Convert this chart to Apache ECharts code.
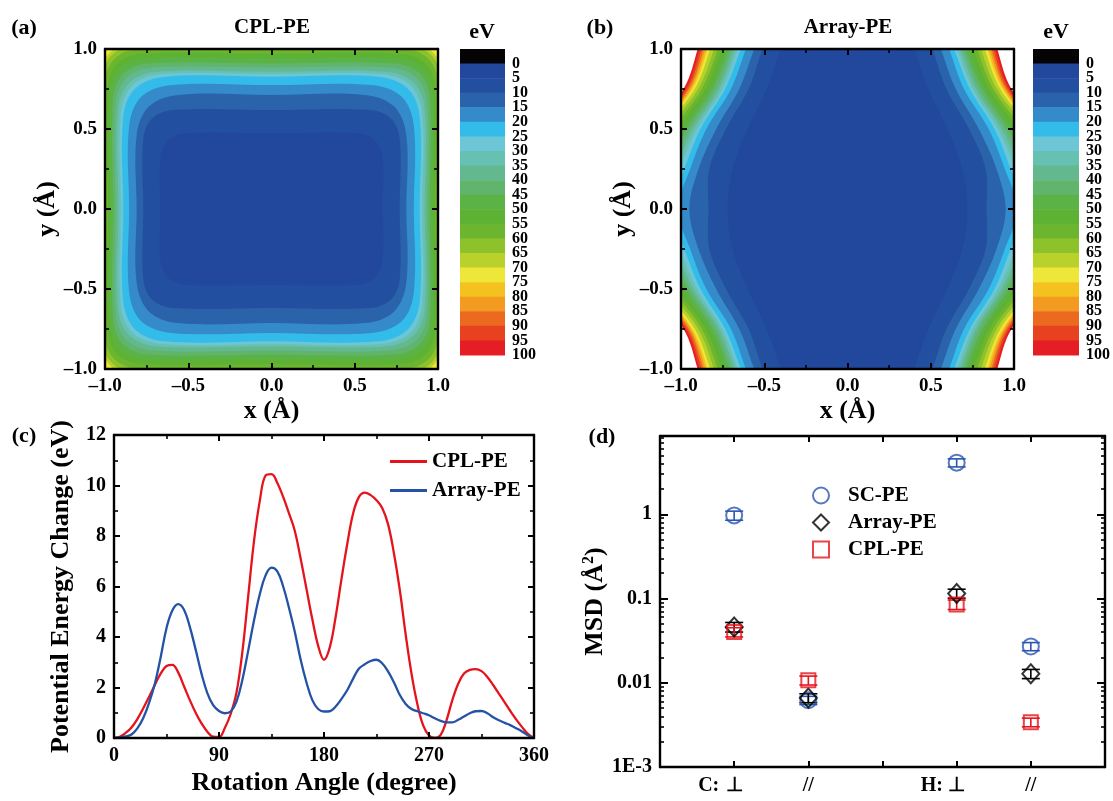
<!DOCTYPE html>
<html>
<head>
<meta charset="utf-8">
<script src="https://cdn.jsdelivr.net/npm/echarts@6/dist/echarts.min.js"></script>
<style>
html,body{margin:0;padding:0;background:#fff;}
#chart{width:1113px;height:801px;}
</style>
</head>
<body>
<div id="chart"></div>
<script>
// ================= DATA =================
// Colour scale: 5 eV bands from 0 to 100 eV (band k covers [5k, 5k+5]); colour-bar lower bounds (-5 = black cap)
const bandColors = ['#21489D','#234FA0','#2A63AA','#358BCA','#33BCEA','#6CC6D6','#67C1B2','#63B88F','#60B46B','#5CB345',
                    '#5EB233','#6CB62F','#8DC22A','#B9D22B','#EEE73A','#F5C11F','#F39A20','#EC6A20','#E8411F','#E51D25'];
const capColor = '#050304';
const colorbarLows = [-5,0,5,10,15,20,25,30,35,40,45,50,55,60,65,70,75,80,85,90,95];
const colorbarTickLabels = ['0','5','10','15','20','25','30','35','40','45','50','55','60','65','70','75','80','85','90','95','100'];

// Panel (a) CPL-PE map: iso-energy contours (rounded rectangles), in Å.
// For each level: half width at y=0, half height at x=0, corner point, and where the straight sides end.
const cplLevels      = [5,    10,   15,   20,   25,   30,   35,   40,   45,   50,   55,   60,   65,   70,   75];
const cplHalfWidth   = [0.667,0.77, 0.81, 0.855,0.89, 0.905,0.92, 0.935,0.95, 0.967,0.983,1.0,  1.02, 1.04, 1.3];
const cplHalfHeight  = [0.473,0.619,0.713,0.775,0.827,0.843,0.858,0.884,0.91, 0.94, 0.97, 1.0,  1.03, 1.06, 1.3];
const cplCornerX     = [0.62, 0.717,0.737,0.782,0.817,0.835,0.853,0.871,0.888,0.908,0.924,0.941,0.956,0.964,1.3];
const cplCornerY     = [0.43, 0.566,0.64, 0.702,0.754,0.773,0.791,0.82, 0.848,0.881,0.911,0.941,0.966,0.984,1.3];
const cplSideEndY    = [0.32, 0.44, 0.46, 0.52, 0.58, 0.60, 0.63, 0.66, 0.70, 0.74, 0.77, 0.80, 0.81, 0.80, 0.8];
const cplTopEndX     = [0.52, 0.59, 0.56, 0.60, 0.64, 0.66, 0.69, 0.71, 0.74, 0.77, 0.78, 0.80, 0.80, 0.78, 0.8];

// Panel (b) Array-PE map: iso-energy contour |x| positions (Å) at the heights below (left/right symmetric).
const arrayLevels = [5,10,15,20,25,30,35,40,45,50,55,60,65,70,75,80,85,90,95,100];
const arrayContourY = [1.15, 1, 0.75, 0.5, 0.25, 0, -0.25, -0.5, -0.75, -1, -1.15];
const arrayContourX = [
  [0.34,0.40,0.485,0.60, 0.69, 0.72,0.69, 0.60, 0.485,0.40,0.34],
  [0.45,0.51,0.594,0.73, 0.83, 0.835,0.83,0.73, 0.594,0.51,0.45],
  [0.50,0.56,0.650,0.789,0.895,0.95,0.895,0.789,0.650,0.56,0.50],
  [0.55,0.61,0.700,0.848,0.945,1.02,0.945,0.848,0.700,0.61,0.55],
  [0.58,0.64,0.735,0.883,0.98, 1.07,0.98, 0.883,0.735,0.64,0.58],
  [0.60,0.658,0.752,0.904,1.01,1.10,1.01, 0.904,0.752,0.658,0.60],
  [0.62,0.675,0.770,0.925,1.035,1.13,1.035,0.925,0.770,0.675,0.62],
  [0.64,0.693,0.788,0.945,1.06,1.16,1.06, 0.945,0.788,0.693,0.64],
  [0.66,0.71,0.810,0.966,1.085,1.19,1.085,0.966,0.810,0.71,0.66],
  [0.69,0.733,0.830,0.993,1.11,1.22,1.11, 0.993,0.830,0.733,0.69],
  [0.71,0.756,0.853,1.02, 1.14,1.25,1.14, 1.02, 0.853,0.756,0.71],
  [0.74,0.779,0.875,1.047,1.17,1.28,1.17, 1.047,0.875,0.779,0.74],
  [0.77,0.802,0.897,1.074,1.20,1.31,1.20, 1.074,0.897,0.802,0.77],
  [0.79,0.825,0.918,1.10, 1.23,1.34,1.23, 1.10, 0.918,0.825,0.79],
  [0.81,0.84,0.932,1.12, 1.25,1.36,1.25, 1.12, 0.932,0.84,0.81],
  [0.82,0.852,0.942,1.133,1.265,1.38,1.265,1.133,0.942,0.852,0.82],
  [0.835,0.864,0.952,1.148,1.28,1.40,1.28,1.148,0.952,0.864,0.835],
  [0.85,0.876,0.962,1.162,1.295,1.42,1.295,1.162,0.962,0.876,0.85],
  [0.86,0.888,0.972,1.176,1.31,1.44,1.31, 1.176,0.972,0.888,0.86],
  [0.87,0.90,0.985,1.19, 1.325,1.46,1.325,1.19, 0.985,0.90,0.87]
];

// Panel (c): rotation energy curves
const rotationAngles = [0,5,10,15,20,25,30,35,40,45,50,55,60,65,70,75,80,85,90,95,100,105,110,115,120,125,130,135,140,145,150,155,160,165,170,175,180,
  185,190,195,200,205,210,215,220,225,230,235,240,245,250,255,260,265,270,275,280,285,290,295,300,305,310,315,320,325,330,335,340,345,350,355,360];
const cplEnergy = [0,0.05,0.2,0.42,0.75,1.17,1.62,2.1,2.55,2.85,2.9,2.6,2.05,1.5,1.0,0.58,0.25,0.05,0.04,0.4,0.95,1.8,3.4,5.6,7.8,9.4,10.4,10.45,10.1,9.55,8.9,8.2,7.1,5.9,4.7,3.65,3.1,
  3.6,4.8,6.3,7.7,8.9,9.55,9.72,9.62,9.42,9.1,8.45,7.3,5.85,4.1,2.55,1.35,0.5,0.1,0.0,0.12,0.7,1.5,2.15,2.55,2.7,2.73,2.65,2.42,2.1,1.75,1.4,1.05,0.72,0.42,0.15,0];
const arrayEnergy = [0,0.02,0.06,0.14,0.38,0.78,1.38,2.15,3.2,4.35,5.05,5.3,5.08,4.4,3.5,2.55,1.78,1.3,1.07,0.98,1.05,1.44,2.3,3.45,4.65,5.7,6.45,6.75,6.6,6.0,5.15,4.2,3.1,2.2,1.5,1.15,1.05,
  1.06,1.25,1.55,1.9,2.35,2.75,2.92,3.05,3.1,2.95,2.63,2.2,1.7,1.35,1.15,1.06,0.98,0.9,0.78,0.68,0.62,0.62,0.72,0.85,0.98,1.06,1.07,0.98,0.82,0.7,0.6,0.5,0.38,0.25,0.1,0];

// Panel (d): MSD values (log scale)
const msdPositions = [1,2,4,5];
const msdGroups = ['C:','','H:',''];
const msdDirections = ['\u22A5','//','\u22A5','//'];
const scMSD = [0.97,0.0062,4.1,0.027];
const scErr = [0.12,0.0007,0.45,0.003];
const arrayMSD = [0.046,0.0066,0.115,0.0128];
const arrayErr = [0.006,0.0008,0.014,0.0016];
const cplMSD = [0.040,0.0107,0.085,0.0034];
const cplErr = [0.005,0.0013,0.011,0.0004];
const logTickLabels = {'-3':'1E-3','-2':'0.01','-1':'0.1','0':'1'};

// ================= BUILD =================
const FONT = "'Liberation Serif','Times New Roman',serif";
const RED = '#E5141C', BLUE = '#2352A6', SCBLUE = '#2A56B0';

// draw order: highest level first, then each lower level on top
const cplOrder = cplLevels.map((l,i)=>[i]).reverse();
const arrayOrder = arrayLevels.map((l,i)=>[i]).reverse();

function cplContourRender(params, api){
  const i = api.value(0);
  const ax = cplHalfWidth[i], ay = cplHalfHeight[i], cx = cplCornerX[i], cy = cplCornerY[i], e1 = cplSideEndY[i], e2 = cplTopEndX[i];
  const q = [[ax,0],[ax,e1],[cx,cy],[e2,ay],[0,ay],[-e2,ay],[-cx,cy],[-ax,e1],[-ax,0],[-ax,-e1],[-cx,-cy],[-e2,-ay],[0,-ay],[e2,-ay],[cx,-cy],[ax,-e1]];
  const pts = q.map(p => api.coord(p));
  return {type:'polygon', shape:{points:pts, smooth:0.35}, style:{fill:bandColors[cplLevels[i]/5 - 1], stroke:null}};
}
function arrayContourRender(params, api){
  const i = api.value(0);
  const xs = arrayContourX[i];
  const left = arrayContourY.map((y,k) => api.coord([-xs[k], y]));
  const right = arrayContourY.map((y,k) => api.coord([xs[k], y])).reverse();
  return {type:'polygon', shape:{points:left.concat(right), smooth:0.35}, style:{fill:bandColors[arrayLevels[i]/5 - 1], stroke:null}};
}
// colour bar: one rectangle per 5 eV segment, with the segment's boundary value written beside it
function barRender(params, api){
  const lo = api.value(0);
  const p0 = api.coord([0, lo]); const p1 = api.coord([1, lo + 5]);
  const idx = Math.round(lo / 5);
  const children = [{type:'rect', shape:{x:p0[0], y:p0[1], width:p1[0]-p0[0], height:p1[1]-p0[1]+0.5},
          style:{fill: lo < 0 ? capColor : bandColors[idx]}}];
  const labelStyle = {fill:'#000', font:'bold 16px ' + FONT, align:'left', verticalAlign:'middle'};
  if (lo >= -5 && idx + 1 < colorbarTickLabels.length + 1) {
    const li = idx + 1; // label at the lower edge (value lo+5)
    if (li >= 0 && li < colorbarTickLabels.length) {
      children.push({type:'text', x:p1[0] + 7, y:p1[1], style:Object.assign({text:colorbarTickLabels[li]}, labelStyle)});
    }
  }
  return {type:'group', children:children};
}
function errRender(color){
  return function(params, api){
    const x = api.value(0), lo = api.value(1), hi = api.value(2);
    const a = api.coord([x, lo]), b = api.coord([x, hi]); const w = 9;
    const st = {stroke:color, lineWidth:1.6};
    return {type:'group', children:[
      {type:'line', shape:{x1:a[0], y1:a[1], x2:b[0], y2:b[1]}, style:st},
      {type:'line', shape:{x1:a[0]-w, y1:a[1], x2:a[0]+w, y2:a[1]}, style:st},
      {type:'line', shape:{x1:b[0]-w, y1:b[1], x2:b[0]+w, y2:b[1]}, style:st}
    ]};
  };
}

function merge(base, extra){
  const out = Object.assign({}, base);
  for (const k in extra) {
    const v = extra[k];
    if (v && typeof v === 'object' && !Array.isArray(v) && base[k] && typeof base[k] === 'object') out[k] = Object.assign({}, base[k], v);
    else out[k] = v;
  }
  return out;
}
const baseAxis = {
  type:'value', z:10,
  axisLine:{show:true, onZero:false, lineStyle:{color:'#000', width:2.4}},
  axisTick:{show:true, inside:true, length:6, lineStyle:{color:'#000', width:2}},
  minorTick:{show:true, splitNumber:2, length:4, lineStyle:{color:'#000', width:1.6}},
  splitLine:{show:false},
  axisLabel:{show:true, color:'#000', fontFamily:FONT, fontWeight:'bold', fontSize:19, margin:8},
  nameTextStyle:{color:'#000', fontFamily:FONT, fontWeight:'bold', fontSize:26}
};
const ax = o => merge(baseAxis, o);
const noLabel = {show:false};
const mapFmt = v => (v < 0 ? '\u2013' : '') + Math.abs(v).toFixed(1);

const cbAxisY = gi => ({type:'value', gridIndex:gi, min:-5, max:100, interval:5, inverse:true, show:false});
const cbAxisX = gi => ({type:'value', gridIndex:gi, min:0, max:1, show:false});

const xAxes = [
  ax({gridIndex:0, min:-1, max:1, interval:0.5, position:'bottom', axisLabel:{formatter:mapFmt}, name:'x (\u00C5)', nameLocation:'middle', nameGap:29}),
  ax({gridIndex:0, min:-1, max:1, interval:0.5, position:'top', axisLabel:noLabel}),
  cbAxisX(1),
  ax({gridIndex:2, min:-1, max:1, interval:0.5, position:'bottom', axisLabel:{formatter:mapFmt}, name:'x (\u00C5)', nameLocation:'middle', nameGap:29}),
  ax({gridIndex:2, min:-1, max:1, interval:0.5, position:'top', axisLabel:noLabel}),
  cbAxisX(3),
  ax({gridIndex:4, min:0, max:360, interval:90, position:'bottom', axisLabel:{fontSize:20}, name:'Rotation Angle (degree)', nameLocation:'middle', nameGap:32}),
  ax({gridIndex:4, min:0, max:360, interval:90, position:'top', axisLabel:noLabel}),
  ax({gridIndex:5, min:0, max:6, interval:1, position:'bottom', minorTick:{show:false},
      axisLabel:{fontSize:20, margin:9, formatter: v => {
        const i = msdPositions.indexOf(v); if (i < 0) return '';
        return msdGroups[i] ? '{g|' + msdGroups[i] + '}{d|' + msdDirections[i] + '}{e|}' : '{d|' + msdDirections[i] + '}';
      }, rich:{
        g:{width:28, align:'left', fontFamily:FONT, fontWeight:'bold', fontSize:20, color:'#000'},
        d:{width:16, align:'center', fontFamily:FONT, fontWeight:'bold', fontSize:20, color:'#000'},
        e:{width:28}
      }}}),
  ax({gridIndex:5, min:0, max:6, interval:1, position:'top', minorTick:{show:false}, axisLabel:noLabel})
];
const yAxes = [
  ax({gridIndex:0, min:-1, max:1, interval:0.5, position:'left', axisLabel:{formatter:mapFmt}, name:'y (\u00C5)', nameLocation:'middle', nameRotate:90, nameGap:44}),
  ax({gridIndex:0, min:-1, max:1, interval:0.5, position:'right', axisLabel:noLabel}),
  cbAxisY(1),
  ax({gridIndex:2, min:-1, max:1, interval:0.5, position:'left', axisLabel:{formatter:mapFmt}, name:'y (\u00C5)', nameLocation:'middle', nameRotate:90, nameGap:44}),
  ax({gridIndex:2, min:-1, max:1, interval:0.5, position:'right', axisLabel:noLabel}),
  cbAxisY(3),
  ax({gridIndex:4, min:0, max:12, interval:2, position:'left', axisLabel:{fontSize:20}, name:'Potential Energy Change (eV)', nameLocation:'middle', nameRotate:90, nameGap:40}),
  ax({gridIndex:4, min:0, max:12, interval:2, position:'right', axisLabel:noLabel}),
  ax({gridIndex:5, type:'log', logBase:10, min:0.001, max:8.5, interval:1, position:'left',
      minorTick:{show:true, splitNumber:9, length:4},
      axisTick:{length:8},
      axisLabel:{fontSize:20, formatter: v => { const e = Math.log10(v); const r = Math.round(e); return Math.abs(e - r) < 1e-6 ? (logTickLabels[String(r)] || '') : ''; }},
      name:'MSD (\u00C5{sup|2})', nameLocation:'middle', nameRotate:90, nameGap:50,
      nameTextStyle:{rich:{sup:{fontSize:16, fontFamily:FONT, fontWeight:'bold', color:'#000', verticalAlign:'top', padding:[0,0,12,0]}}}}),
  ax({gridIndex:5, type:'log', logBase:10, min:0.001, max:8.5, interval:1, position:'right',
      minorTick:{show:true, splitNumber:9, length:4}, axisTick:{length:8}, axisLabel:noLabel})
];

const txt = (text, x, y, size) => ({type:'text', x:x, y:y, silent:true, z:100,
  style:{text:text, fill:'#000', font:'bold ' + size + 'px ' + FONT, align:'center', verticalAlign:'middle'}});

const colorbarData = colorbarLows.map(v => [v]);

const option = {
  animation:false,
  backgroundColor:'#ffffff',
  textStyle:{fontFamily:FONT},
  grid:[
    {left:105, top:49, width:333, height:320},
    {left:460, top:49, width:45, height:306},
    {left:681, top:49, width:333, height:320},
    {left:1033, top:49, width:46, height:306},
    {left:114, top:435, width:420, height:303},
    {left:660, top:436, width:445, height:331}
  ],
  xAxis:xAxes,
  yAxis:yAxes,
  legend:[
    {left:385, top:446, orient:'vertical', itemWidth:37, itemHeight:3, itemGap:8, selectedMode:false,
     data:[{name:'CPL-PE', icon:'rect'}, {name:'Array-PE', icon:'rect'}],
     textStyle:{color:'#000', fontFamily:FONT, fontWeight:'bold', fontSize:21}},
    {left:807, top:480, orient:'vertical', itemWidth:16, itemHeight:16, itemGap:6, selectedMode:false,
     data:['SC-PE', 'Array-PE ', 'CPL-PE '], formatter: n => n.trim(),
     itemStyle:{borderWidth:2},
     textStyle:{color:'#000', fontFamily:FONT, fontWeight:'bold', fontSize:21, padding:[0,0,0,14]}}
  ],
  graphic:[
    txt('(a)', 24, 28, 22), txt('CPL-PE', 272, 28, 21), txt('eV', 482, 32, 22),
    txt('(b)', 600, 28, 22), txt('Array-PE', 848, 28, 21), txt('eV', 1056, 32, 22),
    txt('(c)', 24, 436, 22), txt('(d)', 602, 437, 22)
  ],
  series:[
    {type:'custom', xAxisIndex:0, yAxisIndex:0, data:cplOrder, renderItem:cplContourRender, clip:true, silent:true},
    {type:'custom', xAxisIndex:2, yAxisIndex:2, data:colorbarData, renderItem:barRender, silent:true, encode:{y:0}},
    {type:'custom', xAxisIndex:3, yAxisIndex:3, data:arrayOrder, renderItem:arrayContourRender, clip:true, silent:true},
    {type:'custom', xAxisIndex:5, yAxisIndex:5, data:colorbarData, renderItem:barRender, silent:true, encode:{y:0}},
    {type:'line', name:'CPL-PE', xAxisIndex:6, yAxisIndex:6, data:rotationAngles.map((a,i)=>[a, cplEnergy[i]]),
     smooth:0.4, showSymbol:false, lineStyle:{color:RED, width:2.3}, itemStyle:{color:RED}},
    {type:'line', name:'Array-PE', xAxisIndex:6, yAxisIndex:6, data:rotationAngles.map((a,i)=>[a, arrayEnergy[i]]),
     smooth:0.4, showSymbol:false, lineStyle:{color:BLUE, width:2.3}, itemStyle:{color:BLUE}},
    {type:'custom', xAxisIndex:8, yAxisIndex:8, renderItem:errRender(SCBLUE), encode:{x:0, y:[1,2]}, silent:true,
     data:msdPositions.map((x,i)=>[x, scMSD[i]-scErr[i], scMSD[i]+scErr[i]])},
    {type:'custom', xAxisIndex:8, yAxisIndex:8, renderItem:errRender('#000'), encode:{x:0, y:[1,2]}, silent:true,
     data:msdPositions.map((x,i)=>[x, arrayMSD[i]-arrayErr[i], arrayMSD[i]+arrayErr[i]])},
    {type:'custom', xAxisIndex:8, yAxisIndex:8, renderItem:errRender(RED), encode:{x:0, y:[1,2]}, silent:true,
     data:msdPositions.map((x,i)=>[x, cplMSD[i]-cplErr[i], cplMSD[i]+cplErr[i]])},
    {type:'scatter', name:'SC-PE', xAxisIndex:8, yAxisIndex:8, symbol:'circle', symbolSize:16,
     itemStyle:{color:'rgba(0,0,0,0)', borderColor:SCBLUE, borderWidth:2}, data:msdPositions.map((x,i)=>[x, scMSD[i]])},
    {type:'scatter', name:'Array-PE ', xAxisIndex:8, yAxisIndex:8, symbol:'diamond', symbolSize:[17,19],
     itemStyle:{color:'rgba(0,0,0,0)', borderColor:'#000', borderWidth:2}, data:msdPositions.map((x,i)=>[x, arrayMSD[i]])},
    {type:'scatter', name:'CPL-PE ', xAxisIndex:8, yAxisIndex:8, symbol:'rect', symbolSize:14,
     itemStyle:{color:'rgba(0,0,0,0)', borderColor:RED, borderWidth:2}, data:msdPositions.map((x,i)=>[x, cplMSD[i]])}
  ]
};
const chart = echarts.init(document.getElementById('chart'), null, {renderer:'canvas'});
chart.setOption(option);
</script>
</body>
</html>
